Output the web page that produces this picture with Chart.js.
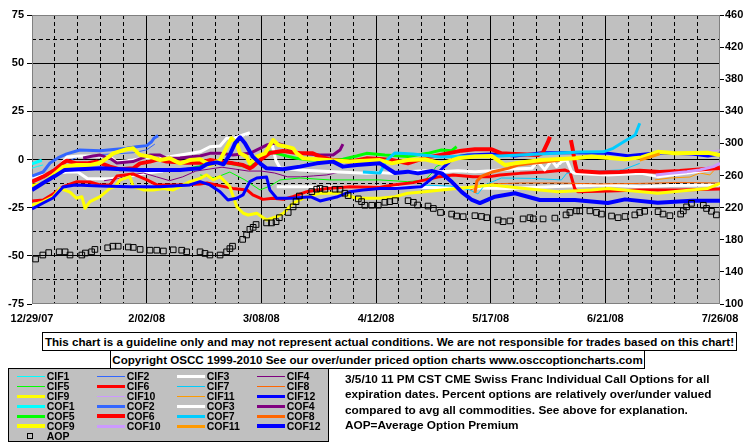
<!DOCTYPE html>
<html><head><meta charset="utf-8">
<script src="https://cdn.jsdelivr.net/npm/chart.js@4.4.0/dist/chart.umd.min.js"></script>
<style>
body{margin:0;background:#fff;}
#wrap{position:relative;width:755px;height:446px;overflow:hidden;font-family:"Liberation Sans",Arial,sans-serif;font-weight:bold;color:#000;}
#c{position:absolute;left:0;top:0;}
.box{position:absolute;border:1px solid #000;background:#fff;white-space:nowrap;font-size:11.6px;line-height:17px;text-align:center;box-sizing:border-box;overflow:hidden;}
#legend{position:absolute;left:8px;top:368px;width:321px;height:74px;background:#C0C0C0;border:1px solid #000;box-sizing:border-box;}
.lt{position:absolute;font-size:10.5px;line-height:12px;white-space:nowrap;}
.ll{position:absolute;width:28px;}
#note{position:absolute;left:345px;top:372px;font-size:11.8px;line-height:15.3px;white-space:nowrap;}
</style></head>
<body><div id="wrap">
<canvas id="c" width="755" height="446"></canvas>
<div class="box" id="disc" style="left:42px;top:332px;width:695px;height:19px;">This chart is a guideline only and may not represent actual conditions. We are not responsible for trades based on this chart!</div>
<div class="box" id="copy" style="left:110px;top:350px;width:535px;height:19px;">Copyright OSCC 1999-2010 See our over/under priced option charts www.osccoptioncharts.com</div>
<div id="legend"></div>
<div id="note">3/5/10 11 PM CST CME Swiss Franc Individual Call Options for all<br>expiration dates. Percent options are relatively over/under valued<br>compared to avg all commodities. See above for explanation.<br>AOP=Average Option Premium</div>
</div>
<script>
// x = days since 12/29/07, y = percent over/under valued
const xTickLabels = ['12/29/07','2/02/08','3/08/08','4/12/08','5/17/08','6/21/08','7/26/08'];

const CIF1 = [[0,-4.5],[1.7,-3.6],[3.4,-2.8]];
const CIF2 = [[0,-10.2],[3.4,-8.5],[6.5,-5],[10,-2],[14,1.5],[20,2.5],[26,3],[31,3.5],[35,5],[37.5,8]];
const CIF3 = [[0,-9.4],[3.4,-8],[7,-7.2],[10.6,-6.5],[14,-6.5],[17,-10],[24,-10],[30,-8.5],[35,-7],[40,-6],[40.1,null],[74.7,-14.1],[90,-14.1],[106,-14.1],[120,-14.5],[135,-14.8],[145,-15],[160,-14],[175,-13.2],[186,-14.1],[195,-13.5],[210,-13.2]];
const CIF4 = [[22,-11],[26,-10],[30,-8],[34,-7],[38,-9],[42,-11],[46,-9],[50,-6],[54,-5],[58,-4],[62,-5],[66,-6],[70,-6],[74,-7],[78,-9],[82,-9],[86,-8.5],[90,-8],[94,-6.5]];
const CIF5 = [[51.3,-8],[55.8,-9.6],[60.4,-6.5],[65,-10.6],[69.6,-15.8],[72.6,-13.8],[75.7,-10.6],[81.8,-9.6],[90.9,-10.6],[100.1,-10.6],[106.2,-10.6],[114.7,-11.5],[119.9,-10.6],[122.1,-7],[123.3,-3.7],[126,-1.8]];
const CIF6 = [[0,-21.5],[3.4,-21],[6.4,-17.9],[9.5,-14.1],[13.7,-11.5],[17.7,-11.7],[20.8,-13.2],[23.8,-13.2],[25.9,-8.6],[30.8,-7.5],[35.1,-10.6],[38.1,-13.2],[45.2,-13.2],[51.3,-12.7],[53.4,-12.2],[61.3,-15],[65.6,-15.8],[67.4,-18.4],[70.5,-20.7],[73.5,-20.1],[76.6,-20.7],[79.6,-19.3],[83.9,-16.7],[90,-15],[97,-14.1],[106.2,-14.4],[110.2,-13.2],[116.3,-12],[124.5,-8.9],[128.5,-8],[134.6,-8.9],[139.8,-8.9],[142.8,-8],[148.9,-7.2],[156.5,-6.5],[162.6,-5.4],[164.2,-6.5],[165.7,-15.3],[166.6,-16.7],[176.4,-16.3],[185.5,-15.8],[197.7,-15.8],[210,-15.3]];
const CIF7 = [[118.4,-13.2],[127.6,-13.8],[133.7,-15.8],[136.1,-17.9],[138.2,-13.2],[143.3,-9.6],[152.5,-9.8],[161.6,-10.6],[163.2,-7.2],[165.7,-6.5],[172,-6],[180.3,-5.4],[185.5,-2]];
const CIF8 = [[133.7,-15.8],[139.8,-12.7],[148.9,-12.2],[161.1,-12.2],[173.3,-12.7],[185.5,-12.4],[197.7,-11.9],[210,-12.2]];
const CIF9 = [[0,-23.6],[3.4,-21.9],[6.5,-19.3],[8.5,-15],[11.6,-16.9],[13.6,-20.1],[15.2,-19.3],[16.2,-25.3],[17.7,-21.9],[20.8,-19.3],[23.8,-15],[25.3,-14.1],[26.9,-10.6],[29.9,-8.9],[30.9,-14.1],[34,-15.8],[37,-15.8],[40.1,-15],[43.1,-15.8],[45.2,-14.1],[48.2,-11.5],[51.3,-9.8],[53.3,-8],[55.3,-10.6],[57.4,-8.9],[60.4,-14.1],[62.5,-24.5],[64.5,-27.9],[66,-28.8],[68.6,-27.9],[71.6,-31.4],[74.7,-29.7],[76.7,-27.9],[79.7,-22.7],[83.8,-19.3],[87.9,-17.5],[94,-17.5],[99.1,-20.1],[106.2,-20.1],[110.8,-19.3],[114.7,-17.5],[119.9,-16.7],[125,-15.8],[135.2,-14.1],[140.3,-13.2],[150.4,-15],[160.5,-16.7],[170.8,-15.8],[175.8,-15],[186,-16.7],[191,-17.5],[201.3,-15.8],[206.3,-15],[210,-12.4]];
const CIF10 = [[200.8,1.3],[203.8,3.4],[206.9,4.4],[210,4.9]];
const CIF11 = [[190.1,-10.6],[194.7,-9.6],[200.8,-9.1],[203.8,-7],[206.9,-8],[210,-2.3]];
const CIF12 = [[0,-25.7],[3.4,-22.6],[6.4,-20],[9.5,-14.3],[13.1,-13.2],[20.8,-13.8],[29.9,-14.1],[39,-14.1],[48.2,-13.2],[51.3,-11.5],[54.3,-13.2],[57.4,-16.7],[59.8,-21],[62.5,-20.1],[64.4,-18.4],[66.5,-11.5],[68.6,-9.6],[71.6,-9.1],[72.6,-15.8],[74.7,-20.1],[79.6,-20.1],[85,-19.3],[87.9,-21.5],[93,-19.5],[97,-16.7],[101,-15.8],[106.2,-15],[110.8,-15],[118.9,-14.1],[123,-8.6],[126,-3.4],[129.1,1.3],[133,2.3],[140.4,2.9],[147.4,1.8],[155.6,3.5],[165.7,3.5],[175.8,3.2],[181.9,2],[191,3.5],[201.4,2.9],[206.3,1.8],[210,2.9]];

const COF1 = [[0,-2.2],[1.5,-1.3],[3,-0.4]];
const COF2 = [[0,-8.6],[3.4,-6.5],[5.5,-1.8],[7.9,0.8],[10.6,2.9],[14.6,4.9],[20.8,4.6],[28.9,5.8],[31.9,6.6],[35,7.2],[36.5,9.2],[37.2,11],[38.5,12.4]];
const COF3 = [[0,-11.2],[4,-8.6],[7.9,-4.4],[10.7,1.3],[14.6,1.8],[19.8,1.8],[23.8,1.3],[25.9,-1.3],[30.8,-0.3],[33.9,0.6],[39.1,0.6],[47.2,2.9],[51.3,4],[54.3,6.6],[57.4,7],[59.4,11],[61.9,11.2],[64.4,12.7],[66.5,13.9],[66.6,null],[73.2,8.4],[74.5,-0.8],[75.7,-4.4],[81.8,-5.4],[91.9,-6.3],[97,-6.8],[102.1,-7.2],[106.2,-6.8],[109.8,-7.2],[114.7,-6.3],[119.9,-5.8],[125,-6.3],[130,-5.8],[135.2,-6.3],[140.3,-5.8],[145.3,-5.1],[152.5,-4.6],[154.4,-1.1],[156.5,-5.4],[158.6,-0.3],[160.1,-3.7],[161.6,-1.1],[163.2,-0.3],[164.7,-6.3],[165.7,-7.2],[175.8,-8],[186,-7.2],[191,-8.9],[201.3,-6.8],[206.3,-5.4],[210,-4.4]];
const COF4 = [[15.6,0.8],[18.6,1.8],[20.8,2.3],[23.8,0.6],[25.9,-1.8],[30.8,-1.1],[36,2.3],[39.1,2.3],[41.1,0.6],[45.2,0.8],[51.3,1.8],[54.3,3.2],[57.4,3.2],[61.3,2.3],[66.5,3.2],[69.6,5.8],[71.6,7.5],[74.2,8.6],[76.6,7.5],[78.7,4.9],[81.8,3.2],[87.9,2.3],[91.9,2.3],[94,4.9],[94.9,8]];
const COF5 = [[43,-5.4],[47.2,-5.1],[51.3,-3.7],[53.3,-2],[56.4,-0.5],[60.4,-2],[65.5,-3.7],[68.6,-2],[70.6,1.5],[72.6,4],[74.7,3.2],[77.7,1.8],[80.8,0.6],[84.8,-0.3],[94.9,0.1],[99.1,1.8],[102.1,3.2],[107.7,2.3],[114.7,1.5],[120.8,3.2],[125,4.9],[128.1,4.6],[129.6,6.6]];
const COF6 = [[0,-11.5],[3.4,-8.9],[7,-5.4],[9.6,-1.7],[10.6,-0.6],[13.6,-2],[16.7,-2],[19.7,-1.1],[23.8,-3.7],[26.9,-5.1],[30.9,-4.6],[33,-2],[36,-1.1],[38.5,0.1],[41.1,-1.1],[47.2,-1.7],[51.3,-1.7],[54.3,-0.3],[57.4,-1.1],[61.4,-2],[64.4,-2.9],[66.5,-4.6],[67.4,-3.7],[69.6,-0.3],[72.6,3.4],[76.6,4.4],[81.8,3.2],[85.7,3.2],[87.9,1.5],[91.9,-0.3],[97,-1.1],[102.1,0.6],[106.2,0.3],[109.8,-0.3],[114.7,-2],[117.8,-0.3],[122,1.5],[126.9,3.2],[131.1,4.6],[135.2,5.3],[140.3,5.3],[143.3,3.2],[147.4,2.9],[154.4,2.3],[155.9,3.4],[157.5,9.1],[158.1,11.8],[158.2,null],[164.5,10.1],[165.1,4.9],[165.7,-1.8],[166.3,-6],[173.3,-6.8],[179.4,-6.5],[185.5,-5.8],[191.6,-6.5],[197.7,-6],[203.8,-5.2],[210,-4.4]];
const COF7 = [[101,-6.5],[106.2,-7],[108.3,-0.3],[110.8,3.4],[116.3,2.9],[124.5,1.3],[133.7,1.8],[142.8,1.8],[155,2.9],[167.2,3.9],[174.4,4],[177.4,5.8],[181.5,10.1],[184.1,12.7],[185.5,18.8]];
const COF8 = [[135.2,-17.4],[135.8,-11.2],[137.3,-8.6],[140.4,-6.5],[145.3,-4.6],[148.3,-2.9],[152.6,-2],[156.5,-1.3],[161.1,-0.3]];
const COF9 = [[0,-13.8],[3.4,-12.4],[6.5,-8],[9.6,-3.7],[13.6,-2.9],[17.7,-2.9],[20.8,-1.7],[22.8,0.6],[24.8,3.2],[28.9,5.3],[30.9,5.8],[33,2.3],[36,1.5],[39.1,-0.3],[42.1,0.6],[45.2,-2],[48.2,-0.3],[51.3,0.1],[54.3,-2.9],[57.4,-0.3],[60.9,11],[62.5,8.4],[63.5,3.2],[65.5,1.5],[66.5,-2],[68.6,1.5],[71.1,3.2],[73.6,10.1],[75.2,7.5],[77.7,6.6],[79.7,5.8],[80.8,3.2],[82.8,0.6],[89.9,-0.3],[97,-1.1],[106.2,-0.3],[109.8,-2],[114.7,-0.3],[119.9,0.1],[125,-2],[130,0.6],[135.2,1.5],[140.3,1.8],[144.4,-2.9],[147.4,-2],[155.5,-0.3],[165.7,0.6],[170.8,1.5],[181,0.1],[186,1.1],[191,4],[196.2,3.2],[206.3,3.5],[210,2.3]];
const COF10 = [[190.4,-8],[194.7,-7.2],[199.9,-6.3],[203.8,-5.4],[208,-3.7],[210,-2]];
const COF11 = [[185.5,-0.3],[188.6,1.3],[191.6,2.9]];
const COF12 = [[0,-15.8],[3.4,-12.2],[7,-8.6],[10,-5.4],[20.8,-4.6],[33,-5.4],[45.2,-5.4],[51.3,-4.6],[53.3,-2.5],[56.4,-1.5],[58.5,-2.5],[60.5,3],[62,8.5],[63.5,11.5],[65,8.4],[66.5,4],[67.4,1.5],[69.6,-2],[71.6,-4.6],[76.6,-5.1],[81.8,-3.7],[86.9,-2],[91.9,-1.1],[94.9,-3.7],[99.1,-2.9],[106.2,-2],[110.8,-7],[114.7,-6.3],[117.8,-7.2],[122,-6],[125.1,-7.2],[128.2,-11.7],[131.2,-16.9],[134.3,-21],[136.7,-22.6],[141.3,-19.3],[147.4,-17.5],[155,-21],[165.7,-21],[175.8,-22.6],[181,-20.7],[191,-22.4],[201.4,-21.4],[210,-21.4]];

// Average option premium (right axis)
const AOP = [[1.1,156],[3.3,161],[5.1,164],[8.3,165],[10.1,165],[11.6,161],[15.2,161],[16.3,163.5],[18.2,165],[19.2,168],[23.1,170],[24.7,172],[26.3,172],[29.4,171],[30.9,170.5],[33,168],[36,167],[38.1,167],[40.1,166],[43.1,167.5],[45.7,167],[47.2,165],[51.3,165],[52.8,163],[54.3,161],[57.4,161],[59.4,165],[60.4,169],[61.2,172],[64.3,180.5],[65.5,186],[66.5,193],[67.5,195.5],[68.4,199],[71.6,201],[73.1,201],[74.5,202.5],[75.5,207.5],[78.2,214],[79.7,221],[80.6,227.5],[81.6,234.5],[85.4,240],[86.9,243],[87.9,244],[89.4,243],[92.5,243],[94,243],[95.5,238],[96.5,235],[99.6,231],[100.6,227.5],[101.6,223],[103.7,223],[105.7,223],[107.7,226.7],[109.2,227.5],[110.8,228.7],[114.8,228.7],[116.4,226.7],[117.7,223.3],[120.9,222],[122.5,219],[124.7,214],[128.1,212],[129.6,209.6],[131.6,208.8],[135.2,210],[137.2,209],[138.8,207.5],[142.3,204.6],[143.8,202.5],[145.9,203.5],[149.9,206],[152,207.5],[153,206],[156,206],[159.6,207],[163,211],[164.2,214],[166.2,216],[167.2,216],[170.3,216],[172.3,214],[173.8,212],[176.9,209.6],[178.9,207.5],[181,209],[184,211],[185.5,214],[187,215.5],[191.1,215],[192.6,212],[194.7,210],[198,212],[198.8,216],[199.8,221],[201.3,225.4],[204.9,223],[205.9,219],[207.4,215.5],[208.9,211]];

const SERIES = [
  ['CIF1',CIF1,'#00FFFF',1],['CIF2',CIF2,'#3366FF',1],['CIF3',CIF3,'#FFFFFF',3],['CIF4',CIF4,'#800080',1],
  ['CIF5',CIF5,'#00FF00',1],['CIF6',CIF6,'#FF0000',3],['CIF7',CIF7,'#00CCFF',1],['CIF8',CIF8,'#FF6600',1],
  ['CIF9',CIF9,'#FFFF00',3],['CIF10',CIF10,'#CC99FF',1],['CIF11',CIF11,'#FF9900',1],['CIF12',CIF12,'#0000FF',3],
  ['COF1',COF1,'#00FFFF',3],['COF2',COF2,'#3366FF',3],['COF3',COF3,'#FFFFFF',3],['COF4',COF4,'#800080',3],
  ['COF5',COF5,'#00FF00',3],['COF6',COF6,'#FF0000',4],['COF7',COF7,'#00CCFF',3],['COF8',COF8,'#FF6600',3],
  ['COF9',COF9,'#FFFF00',4],['COF10',COF10,'#CC99FF',3],['COF11',COF11,'#FF9900',3],['COF12',COF12,'#0000FF',4]
];

const FONT = {family:"'Liberation Sans', Arial, sans-serif", size:11, weight:'bold'};
const toXY = arr => arr.map(p => ({x:p[0], y:p[1]}));

const datasets = SERIES.map((s,i) => ({
  label:s[0], data:toXY(s[1]), borderColor:s[2], backgroundColor:s[2], borderWidth:s[3],
  pointRadius:0, tension:0, spanGaps:false, yAxisID:'y', order:100-i, borderJoinStyle:'round'
}));
datasets.push({
  label:'AOP', data:toXY(AOP), type:'line', showLine:false, yAxisID:'y2',
  pointStyle:'rect', pointRadius:4, pointBorderColor:'#000', pointBackgroundColor:'rgba(0,0,0,0)',
  pointBorderWidth:1, borderColor:'#000', order:0
});

const isMajor = (v, step) => Math.abs(v/step - Math.round(v/step)) < 1e-6;

const plotBg = {
  id:'plotBg',
  beforeDraw(chart){
    const {ctx, chartArea:a} = chart;
    ctx.save(); ctx.fillStyle='#fff'; ctx.fillRect(0,0,chart.width,chart.height);
    ctx.fillStyle='#C0C0C0'; ctx.fillRect(a.left,a.top,a.right-a.left,a.bottom-a.top); ctx.restore();
  },
  beforeDatasetsDraw(chart){
    const {ctx, chartArea:a} = chart;
    ctx.save(); ctx.strokeStyle='#808080'; ctx.lineWidth=1;
    ctx.strokeRect(Math.round(a.left)+0.5, Math.round(a.top)+0.5, Math.round(a.right-a.left)-1, Math.round(a.bottom-a.top)-1);
    ctx.restore();
  }
};

new Chart(document.getElementById('c'), {
  type:'line',
  data:{datasets},
  plugins:[plotBg],
  options:{
    responsive:false, animation:false, devicePixelRatio:1,
    layout:{padding:{top:15, bottom:120, left:0, right:0}},
    plugins:{legend:{display:false}, tooltip:{enabled:false}},
    scales:{
      x:{type:'linear', min:0, max:210,
        afterFit:s=>{s.height=22;},
        ticks:{stepSize:7, autoSkip:false, maxRotation:0, padding:8, color:'#000', font:FONT,
          callback:v => isMajor(v,35) ? xTickLabels[Math.round(v/35)] : ''},
        grid:{drawTicks:false, lineWidth:1,
          color:c => (c.tick && (c.tick.value===0 || c.tick.value===210)) ? 'rgba(0,0,0,0)' : '#000'},
        border:{display:false, dash:c => (c.tick && !isMajor(c.tick.value,35)) ? [4,3] : []}
      },
      y:{type:'linear', position:'left', min:-75, max:75,
        afterFit:s=>{s.width=32;},
        ticks:{stepSize:12.5, autoSkip:false, padding:3, color:'#000', font:FONT,
          callback:v => isMajor(v,25) ? String(v) : ''},
        grid:{drawTicks:true, tickLength:5, lineWidth:1,
          color:c => (c.tick && Math.abs(c.tick.value)===75) ? 'rgba(0,0,0,0)' : '#000',
          tickColor:c => (c.tick && isMajor(c.tick.value,25)) ? '#000' : 'rgba(0,0,0,0)'},
        border:{display:false, dash:c => (c.tick && !isMajor(c.tick.value,25)) ? [4,3] : []}
      },
      y2:{type:'linear', position:'right', min:100, max:460,
        afterFit:s=>{s.width=35;},
        ticks:{stepSize:40, autoSkip:false, padding:1, color:'#000', font:FONT},
        grid:{drawOnChartArea:false, drawTicks:true, tickLength:4, tickColor:'#000'},
        border:{display:false}
      }
    }
  }
});

// HTML legend box
const leg = document.getElementById('legend');
SERIES.forEach((s,i) => {
  const col = i % 4, row = Math.floor(i/4);
  const line = document.createElement('div');
  line.className='ll';
  line.style.left = (7.7 + col*80) + 'px';
  line.style.top = (7 + row*10 - s[3]/2) + 'px';
  line.style.height = s[3] + 'px';
  line.style.background = s[2];
  leg.appendChild(line);
  const t = document.createElement('div');
  t.className='lt';
  t.style.left = (37.7 + col*80) + 'px';
  t.style.top = (7 + row*10 - 6.5) + 'px';
  t.textContent = s[0];
  leg.appendChild(t);
});
const sq = document.createElement('div');
sq.style.cssText='position:absolute;left:18px;top:64px;width:6px;height:6px;border:1px solid #000;box-sizing:border-box;';
leg.appendChild(sq);
const at = document.createElement('div');
at.className='lt'; at.style.left='37.7px'; at.style.top=(7+60-6.5)+'px'; at.textContent='AOP';
leg.appendChild(at);
</script>
</body></html>
